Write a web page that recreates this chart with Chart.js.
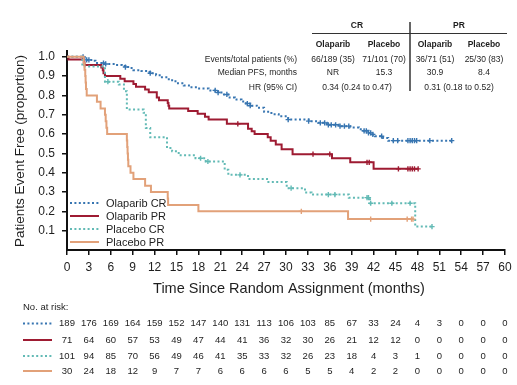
<!DOCTYPE html>
<html><head><meta charset="utf-8">
<script src="https://cdn.jsdelivr.net/npm/chart.js@4"></script>
<style>html,body{margin:0;padding:0;background:#fff}canvas{display:block}</style>
</head><body>
<canvas id="c" width="517" height="385"></canvas>
<script>
// ---------- data ----------
const xTicks = [0,3,6,9,12,15,18,21,24,27,30,33,36,39,42,45,48,51,54,57,60];
const yTicks = [0.1,0.2,0.3,0.4,0.5,0.6,0.7,0.8,0.9,1.0];
const seriesNames = ['Olaparib CR','Olaparib PR','Placebo CR','Placebo PR'];

const olaCR_t = [0,2.3,2.7,3.5,3.9,5.2,6.6,7.5,8.0,8.7,9.1,10.2,11.0,11.4,12.2,13.0,13.8,14.4,15.2,16.0,16.7,17.8,19.4,20.7,21.5,22.1,23.0,23.9,24.5,25.1,26.0,27.0,28.0,29.0,30.3,33.1,34.4,35.6,37.2,38.8,40.0,40.6,41.3,41.7,42.2,43.3,44.0,52.9];
const olaCR_s = [1.0,0.995,0.984,0.979,0.968,0.963,0.958,0.952,0.947,0.942,0.931,0.926,0.921,0.915,0.905,0.894,0.884,0.873,0.863,0.852,0.842,0.836,0.826,0.815,0.805,0.789,0.779,0.768,0.758,0.747,0.736,0.715,0.703,0.692,0.675,0.667,0.658,0.648,0.641,0.634,0.625,0.617,0.606,0.598,0.589,0.580,0.566,0.566];
const olaCR_cens = [2.2,2.7,3.0,5.0,5.3,8.0,11.4,20.3,20.7,21.9,24.7,25.1,30.3,33.1,34.7,35.3,35.8,36.2,36.8,37.4,38.0,38.6,40.7,41.0,41.3,41.6,41.9,43.1,44.7,45.3,46.7,47.0,47.3,47.6,47.9,49.7,52.7];

const olaPR_t = [0,0.2,2.3,2.4,4.7,4.9,5.0,5.2,7.3,7.9,9.1,9.45,10.7,11.2,12.3,12.6,13.8,13.9,14.0,16.6,17.9,18.9,19.4,21.9,24.8,25.3,25.7,27.5,27.9,28.6,29.4,30.9,36.3,38.8,42.0,48.1];
const olaPR_s = [1.0,0.986,0.972,0.958,0.944,0.930,0.915,0.901,0.887,0.873,0.859,0.845,0.831,0.817,0.789,0.775,0.761,0.747,0.733,0.719,0.705,0.690,0.675,0.653,0.627,0.615,0.601,0.584,0.566,0.546,0.522,0.496,0.475,0.454,0.420,0.420];
const olaPR_cens = [23.4,33.7,36.0,41.1,41.4,45.4,46.7,47.0,47.3,47.6,48.1];

const plaCR_t = [0,2.1,5.2,7.1,7.8,8.2,10.5,10.8,11.4,13.7,14.4,15.3,17.6,19.0,21.6,22.1,24.8,27.4,30.1,32.6,33.5,38.6,41.5,47.7,50.0];
const plaCR_s = [1.0,0.95,0.871,0.857,0.822,0.727,0.71,0.632,0.584,0.528,0.511,0.49,0.475,0.458,0.415,0.389,0.368,0.352,0.32,0.297,0.287,0.271,0.242,0.121,0.121];
const plaCR_cens = [5.6,18.3,19.3,23.7,30.7,35.8,36.7,41.1,41.3,41.6,44.5,47.0,50.0];

const plaPR_t = [0,2.3,2.4,2.5,2.55,2.6,2.7,4.1,4.6,5.2,5.3,5.4,5.5,8.2,8.25,8.3,8.35,8.4,8.7,9.1,10.7,11.5,13.8,13.85,18.0,38.5,47.4];
const plaPR_s = [1.0,0.967,0.933,0.9,0.867,0.833,0.8,0.767,0.733,0.7,0.667,0.633,0.6,0.567,0.533,0.5,0.467,0.433,0.4,0.367,0.333,0.3,0.267,0.233,0.2,0.16,0.16];
const plaPR_cens = [32.1,41.6,46.6,47.2,47.4];

const riskOlaCR = [189,176,169,164,159,152,147,140,131,113,106,103,85,67,33,24,4,3,0,0,0];
const riskOlaPR = [71,64,60,57,53,49,47,44,41,36,32,30,26,21,12,12,0,0,0,0,0];
const riskPlaCR = [101,94,85,70,56,49,46,41,35,33,32,26,23,18,4,3,1,0,0,0,0];
const riskPlaPR = [30,24,18,12,9,7,7,6,6,6,6,5,5,4,2,2,0,0,0,0,0];

const tblGroups = ['CR','PR'];
const tblCols = ['Olaparib','Placebo','Olaparib','Placebo'];
const tblRowLabels = ['Events/total patients (%)','Median PFS, months','HR (95% CI)'];
const tblEvents = ['66/189 (35)','71/101 (70)','36/71 (51)','25/30 (83)'];
const tblMedian = ['NR','15.3','30.9','8.4'];
const tblHR = ['0.34 (0.24 to 0.47)','0.31 (0.18 to 0.52)'];

// ---------- styles ----------
const colors = ['#3775b1','#9e1b32','#62bab5','#e2a179'];
const dashes = [[2,2.4],[],[2,2.4],[]];
const FONT = 'Arial, "Liberation Sans", Helvetica, sans-serif';
const TXT = '#1e1e1e';

function pts(ts, ss){ return ts.map((t,i)=>({x:t,y:ss[i]})); }
function stepAt(ts, ss, t){ let v = ss[0]; for(let i=0;i<ts.length;i++){ if(ts[i]<=t) v=ss[i]; } return v; }
function cens(ts, ss, cs){ return cs.map(c=>({x:c,y:stepAt(ts,ss,c)})); }

const curves = [[olaCR_t,olaCR_s,olaCR_cens],[olaPR_t,olaPR_s,olaPR_cens],[plaCR_t,plaCR_s,plaCR_cens],[plaPR_t,plaPR_s,plaPR_cens]];
const datasets = [];
const drawOrder = [3,2,1,0];
drawOrder.forEach(i=>{
  const [t,s,c] = curves[i];
  datasets.push({type:'line', label:seriesNames[i], data:pts(t,s), stepped:true, borderColor:colors[i], borderWidth:2,
    borderDash:dashes[i], pointRadius:0, fill:false, tension:0});
  datasets.push({type:'scatter', label:seriesNames[i]+' censored', data:cens(t,s,c), pointStyle:'cross', pointRadius:2.6,
    borderColor:colors[i], backgroundColor:colors[i], pointBorderWidth:1.4, showLine:false});
});

const textPlugin = {
  id:'texts',
  afterDraw(chart){
    const ctx = chart.ctx; const xs = chart.scales.x;
    ctx.save();
    ctx.fillStyle = TXT;
    ctx.textBaseline = 'middle';
    // axis titles
    ctx.textAlign = 'center';
    ctx.font = '14.5px ' + FONT;
    ctx.fillText('Time Since Random Assignment (months)', 289, 289);
    ctx.save();
    ctx.translate(20, 151); ctx.rotate(-Math.PI/2);
    ctx.font = '13.5px ' + FONT;
    ctx.fillText('Patients Event Free (proportion)', 0, 0);
    ctx.restore();

    // legend
    const legY = [203,216,229,242];
    seriesNames.forEach((n,i)=>{
      ctx.beginPath(); ctx.setLineDash(dashes[i]); ctx.lineWidth=2; ctx.strokeStyle=colors[i];
      ctx.moveTo(70, legY[i]); ctx.lineTo(99, legY[i]); ctx.stroke();
      ctx.setLineDash([]);
      ctx.textAlign='left'; ctx.font='11px '+FONT; ctx.fillStyle=TXT;
      ctx.fillText(n, 106, legY[i]+0.5);
    });

    // risk table
    ctx.textAlign='left'; ctx.font='9.5px '+FONT;
    ctx.fillText('No. at risk:', 23, 307);
    const rows = [riskOlaCR, riskOlaPR, riskPlaCR, riskPlaPR];
    const rowY = [323.5,340,356,371];
    rows.forEach((r,i)=>{
      ctx.beginPath(); ctx.setLineDash(dashes[i]); ctx.lineWidth=2; ctx.strokeStyle=colors[i];
      ctx.moveTo(23, rowY[i]); ctx.lineTo(52, rowY[i]); ctx.stroke();
      ctx.setLineDash([]);
      ctx.textAlign='center'; ctx.font='9.5px '+FONT; ctx.fillStyle=TXT;
      r.forEach((v,k)=>{ ctx.fillText(String(v), xs.getPixelForValue(xTicks[k]), rowY[i]); });
    });

    // summary table
    const colX = [333,384,435,484];
    const grpX = [357,459];
    ctx.font='bold 8.5px '+FONT; ctx.textAlign='center';
    tblGroups.forEach((g,i)=>ctx.fillText(g, grpX[i], 26));
    tblCols.forEach((g,i)=>ctx.fillText(g, colX[i], 44.5));
    ctx.font='8.5px '+FONT;
    ctx.textAlign='right';
    const rowYs=[59.5,73,87.5];
    tblRowLabels.forEach((l,i)=>ctx.fillText(l, 297, rowYs[i]));
    ctx.textAlign='center';
    tblEvents.forEach((v,i)=>ctx.fillText(v, colX[i], rowYs[0]));
    tblMedian.forEach((v,i)=>ctx.fillText(v, colX[i], rowYs[1]));
    tblHR.forEach((v,i)=>ctx.fillText(v, grpX[i], rowYs[2]));
    ctx.strokeStyle='#333'; ctx.lineWidth=1; ctx.setLineDash([]);
    ctx.beginPath(); ctx.moveTo(312,33.5); ctx.lineTo(507,33.5); ctx.stroke();
    ctx.lineWidth=1.5;
    ctx.beginPath(); ctx.moveTo(410,22); ctx.lineTo(410,91); ctx.stroke();
    ctx.restore();
  }
};

new Chart(document.getElementById('c'), {
  type:'line',
  data:{datasets},
  options:{
    responsive:false, animation:false, devicePixelRatio:1,
    layout:{padding:{top:51,right:12,left:0,bottom:0}},
    plugins:{legend:{display:false}, tooltip:{enabled:false}},
    scales:{
      x:{type:'linear', min:0, max:60,
        ticks:{stepSize:3, autoSkip:false, maxRotation:0, color:TXT, font:{size:12, family:FONT}, padding:5,
          callback:v=>String(v)},
        grid:{display:true, drawOnChartArea:false, drawTicks:true, tickLength:5, color:'#111', lineWidth:1.5},
        border:{display:true, color:'#111', width:2},
        afterFit(s){ s.height = 135; }
      },
      y:{type:'linear', min:0, max:1.03,
        afterBuildTicks(s){ s.ticks = yTicks.map(v=>({value:v})); },
        ticks:{color:TXT, font:{size:12, family:FONT}, padding:7, callback:v=>Number(v).toFixed(1)},
        grid:{display:true, drawOnChartArea:false, drawTicks:true, tickLength:5, color:'#111', lineWidth:1.5},
        border:{display:true, color:'#111', width:2},
        afterFit(s){ s.width = 67; }
      }
    }
  },
  plugins:[textPlugin]
});
</script>
</body></html>
